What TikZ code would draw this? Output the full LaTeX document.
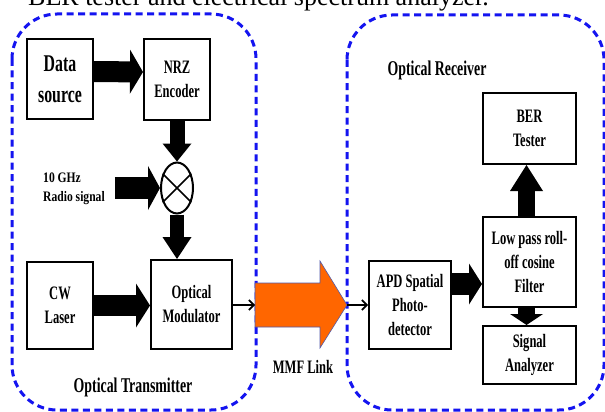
\documentclass[tikz,border=0pt]{standalone}
\usepackage{fontspec}
\usetikzlibrary{arrows.meta,shapes.geometric,calc}
\newfontfamily\condserif[FakeStretch=0.66]{Liberation Serif}
\newfontfamily\wideserif[FakeStretch=0.8]{Liberation Serif}
\newfontfamily\plainserif{Liberation Serif}
\definecolor{dashblue}{RGB}{20,20,240}
\definecolor{linkorange}{RGB}{255,102,0}
\definecolor{linkedge}{RGB}{80,90,170}

\begin{document}
\begin{tikzpicture}[x=1pt,y=-1pt,
  unitbox/.style={draw, line width=2pt, fill=white, inner sep=0pt, align=center,
    font=\condserif\bfseries\fontsize{19}{24}\selectfont},
  grouptitle/.style={inner sep=0pt, font=\condserif\bfseries\fontsize{21}{25}\selectfont},
  dashframe/.style={draw=dashblue, line width=3pt, dash pattern=on 7pt off 4.5pt, rounded corners=45pt},
  bigarrow/.style n args={3}{line width=#1, -{Triangle[width=#2, length=#3, line width=0pt]}},
  thinarrow/.style={line width=1.6pt, -{Straight Barb[length=5pt, width=10pt, line width=1.6pt]}}
]
\fill[white] (0,0) rectangle (605,412);
\useasboundingbox (0,0) rectangle (605,412);

% caption line running above the figure
\node[anchor=base west, inner sep=0pt, font=\plainserif\fontsize{26}{30}\selectfont] (caption) at (28,6)
  {BER tester and electrical spectrum analyzer.};

% transmitter and receiver groups
\draw[dashframe] (12,14) rectangle (256,410);
\draw[dashframe] (347,15) rectangle (604,410);

% transmitter blocks
\node[unitbox, minimum width=66pt, minimum height=80pt,
  font=\condserif\bfseries\fontsize{24}{31}\selectfont] (src) at (60,79) {Data\\source};
\node[unitbox, minimum width=66pt, minimum height=81pt] (nrz) at (177,79.5) {NRZ\\Encoder};
\node[draw, ellipse, line width=2pt, fill=white, minimum width=32pt, minimum height=51pt,
  inner sep=0pt] (mix) at (177,188) {};
\draw[line width=1.6pt] (mix.135) -- (mix.-45) (mix.45) -- (mix.-135);
\node[anchor=west, inner sep=0pt, align=left,
  font=\wideserif\bfseries\fontsize{14.5}{19}\selectfont] (rf) at (43,189) {10 GHz\\Radio signal};
\node[unitbox, minimum width=66pt, minimum height=87pt] (laser) at (60,305.5) {CW\\Laser};
\node[unitbox, minimum width=81pt, minimum height=89pt] (mod) at (191.5,304.5) {Optical\\Modulator};

% receiver blocks
\node[unitbox, minimum width=82pt, minimum height=88pt] (apd) at (410,305) {APD Spatial\\Photo-\\detector};
\node[unitbox, minimum width=93pt, minimum height=71pt] (ber) at (529.5,128.5) {BER\\Tester};
\node[unitbox, minimum width=93pt, minimum height=90pt] (filt) at (529.5,262) {Low pass roll-\\off cosine\\Filter};
\node[unitbox, minimum width=93pt, minimum height=58pt] (sa) at (529.5,355) {Signal\\Analyzer};

% multimode fibre link
\coordinate (linkin) at (255,305);
\coordinate (linkout) at (347,305);
\filldraw[fill=linkorange, draw=linkedge, line width=0.6pt]
  (linkin) ++(0,-22) -- ++(65,0) -- ++(0,-22) -- (linkout) -- ++(-27,43) -- ++(0,-21) -- ++(-65,0) -- cycle;

% group titles
\node[grouptitle, anchor=base, font=\condserif\bfseries\fontsize{19}{23}\selectfont] (mmf) at (303,373) {MMF Link};
\node[grouptitle, anchor=base] (tx) at (133,392) {Optical Transmitter};
\node[grouptitle, anchor=base] (rx) at (437,76) {Optical Receiver};

% signal flow
\draw[bigarrow={21pt}{44pt}{13pt}] ([yshift=7.5pt]src.east) -- ([yshift=7.5pt]nrz.west);
\draw[bigarrow={15pt}{29pt}{18pt}] (nrz.south) -- (mix.north);
\draw[bigarrow={22pt}{44pt}{12pt}] ([xshift=10pt]rf.east |- mix.west) -- (mix.west);
\draw[bigarrow={14pt}{29pt}{22pt}] (mix.south) -- (mix.south |- mod.north);
\draw[bigarrow={21pt}{44pt}{14pt}] (laser.east) -- (laser.east -| mod.west);
\draw[thinarrow] (mod.east |- linkin) -- (linkin);
\draw[thinarrow] (linkout) -- (linkout -| apd.west);
\draw[bigarrow={22pt}{41pt}{13pt}] ([yshift=21pt]apd.east) -- ([yshift=21pt]apd.east -| filt.west);
\draw[bigarrow={17pt}{33pt}{26pt}] ([xshift=-3pt]filt.north) -- ([xshift=-3pt]ber.south);
\draw[bigarrow={17pt}{33pt}{11pt}] ([xshift=-3pt]filt.south) -- ([xshift=-3pt]sa.north);
\end{tikzpicture}
\end{document}
